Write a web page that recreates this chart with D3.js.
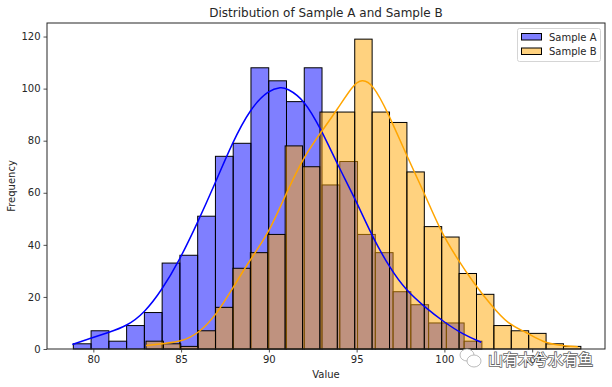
<!DOCTYPE html>
<html>
<head>
<meta charset="utf-8">
<script src="https://cdn.jsdelivr.net/npm/d3@7"></script>
<style>
  html, body { margin: 0; padding: 0; background: #fff; }
  text { font-family: "DejaVu Sans", sans-serif; fill: #262626; }
</style>
</head>
<body>
<svg id="chart"></svg>
<script>
const titleText = "Distribution of Sample A and Sample B";
const xTicks = [80, 85, 90, 95, 100, 105];
const yTicks = [0, 20, 40, 60, 80, 100, 120];

const startA = 78.86, binWidthA = 1.012;
const countsA = [2, 7, 3, 9, 14, 33, 36, 51, 74, 79, 108, 103, 95, 108, 63, 72, 44, 37, 22, 17, 10, 10, 3];
const startB = 83.0, binWidthB = 0.991;
const countsB = [3, 2, 1, 7, 16, 31, 37, 44, 78, 70, 91, 91, 119, 91, 87, 68, 47, 43, 29, 21, 9, 7, 6, 2, 1];

// curves, [value, height]
const curveA = [[78.8, 1.7], [79.8, 4], [80.85, 6.3], [81.9, 8.8], [82.9, 13.8], [83.9, 22.6], [84.9, 34], [85.9, 48],
  [86.9, 63], [87.9, 79], [88.95, 92.5], [90, 99.5], [90.7, 100.6], [91, 100.2], [92, 96], [93, 84], [93.9, 71],
  [95, 56.5], [95.9, 43], [96.9, 31], [97.8, 22.6], [98.9, 16], [99.95, 10.5], [101.1, 5.4], [102.1, 2.6]];
const curveB = [[83, 1.3], [84.1, 2.2], [85, 2.8], [86, 6], [87, 13], [88, 24], [88.9, 34], [90, 44.5], [91, 60],
  [92, 74], [93, 83.5], [93.9, 92], [94.8, 101.5], [95.3, 103.6], [95.9, 102], [96.8, 90.6], [97.8, 75], [98.85, 60],
  [99.8, 45], [100.7, 35], [101.7, 25], [102.7, 16.5], [103.6, 9.6], [104.7, 6.3], [105.6, 2.6], [106.6, 1.3], [107.6, 0.9]];

const width = 612, height = 387;
const margin = {top: 23, right: 7, bottom: 38, left: 47};

const svg = d3.select("#chart")
  .attr("width", width)
  .attr("height", height)
  .style("display", "block");

const xscale = d3.scaleLinear().domain([77.36, 109.15]).range([margin.left, width - margin.right]);
const yscale = d3.scaleLinear().domain([0, 125.2]).range([height - margin.bottom, margin.top]);

function drawBars(counts, start, binWidth, color) {
  svg.append("g").selectAll("rect")
    .data(counts)
    .enter()
    .append("rect")
    .attr("x", (d, i) => xscale(start + i * binWidth))
    .attr("y", d => yscale(d))
    .attr("width", xscale(binWidth) - xscale(0))
    .attr("height", d => yscale(0) - yscale(d))
    .attr("fill", color)
    .attr("fill-opacity", 0.5)
    .attr("stroke", "#000")
    .attr("stroke-width", 1);
}
drawBars(countsA, startA, binWidthA, "blue");
drawBars(countsB, startB, binWidthB, "orange");

const line = d3.line()
  .x(d => xscale(d[0]))
  .y(d => yscale(d[1]))
  .curve(d3.curveBasis);

svg.append("path").attr("d", line(curveA)).attr("fill", "none").attr("stroke", "blue").attr("stroke-width", 1.5);
svg.append("path").attr("d", line(curveB)).attr("fill", "none").attr("stroke", "orange").attr("stroke-width", 1.5);

// axes
const xaxis = d3.axisBottom(xscale).tickValues(xTicks).tickSize(3.5).tickPadding(3).tickSizeOuter(0);
const yaxis = d3.axisLeft(yscale).tickValues(yTicks).tickSize(3.5).tickPadding(3).tickSizeOuter(0);

const xg = svg.append("g").attr("transform", `translate(0,${height - margin.bottom})`).call(xaxis);
const yg = svg.append("g").attr("transform", `translate(${margin.left},0)`).call(yaxis);
[xg, yg].forEach(g => {
  g.select(".domain").remove();
  g.selectAll("line").attr("stroke", "#262626").attr("stroke-width", 0.8);
  g.selectAll("text").attr("font-size", 10).attr("font-family", '"DejaVu Sans", sans-serif').attr("fill", "#262626");
});

// spines
svg.append("rect")
  .attr("x", margin.left).attr("y", margin.top)
  .attr("width", width - margin.left - margin.right)
  .attr("height", height - margin.top - margin.bottom)
  .attr("fill", "none").attr("stroke", "#262626").attr("stroke-width", 1);

svg.append("text").attr("x", 326).attr("y", 17).attr("text-anchor", "middle").attr("font-size", 12).text(titleText);
svg.append("text").attr("x", 326).attr("y", 378).attr("text-anchor", "middle").attr("font-size", 10).text("Value");
svg.append("text").attr("transform", "translate(15,186) rotate(-90)").attr("text-anchor", "middle").attr("font-size", 10).text("Frequency");

// legend
const legend = svg.append("g");
legend.append("rect").attr("x", 517.5).attr("y", 28.5).attr("width", 83).attr("height", 33).attr("rx", 2)
  .attr("fill", "#fff").attr("fill-opacity", 0.8).attr("stroke", "#d5d5d5").attr("stroke-width", 1);
["Sample A", "Sample B"].forEach((name, i) => {
  const y = 33.5 + i * 14.5;
  legend.append("rect").attr("x", 521.5).attr("y", y).attr("width", 20).attr("height", 6.5)
    .attr("fill", i ? "orange" : "blue").attr("fill-opacity", 0.5).attr("stroke", "#000").attr("stroke-width", 1);
  legend.append("text").attr("x", 549).attr("y", y + 7).attr("font-size", 10).text(name);
});

// watermark
const mark = svg.append("g");
mark.append("ellipse").attr("cx", 467).attr("cy", 355).attr("rx", 7).attr("ry", 6)
  .attr("fill", "#fff").attr("stroke", "#aaa").attr("stroke-width", 0.8);
mark.append("ellipse").attr("cx", 474).attr("cy", 361).attr("rx", 7).attr("ry", 6)
  .attr("fill", "#fff").attr("stroke", "#aaa").attr("stroke-width", 0.8);
mark.append("text").attr("x", 488).attr("y", 365).attr("font-size", 15)
  .style("font-family", '"Noto Sans CJK SC"').style("fill", "#fff")
  .style("stroke", "#666").style("stroke-width", 1.6).style("paint-order", "stroke")
  .text("山有木兮水有鱼");
</script>
</body>
</html>
